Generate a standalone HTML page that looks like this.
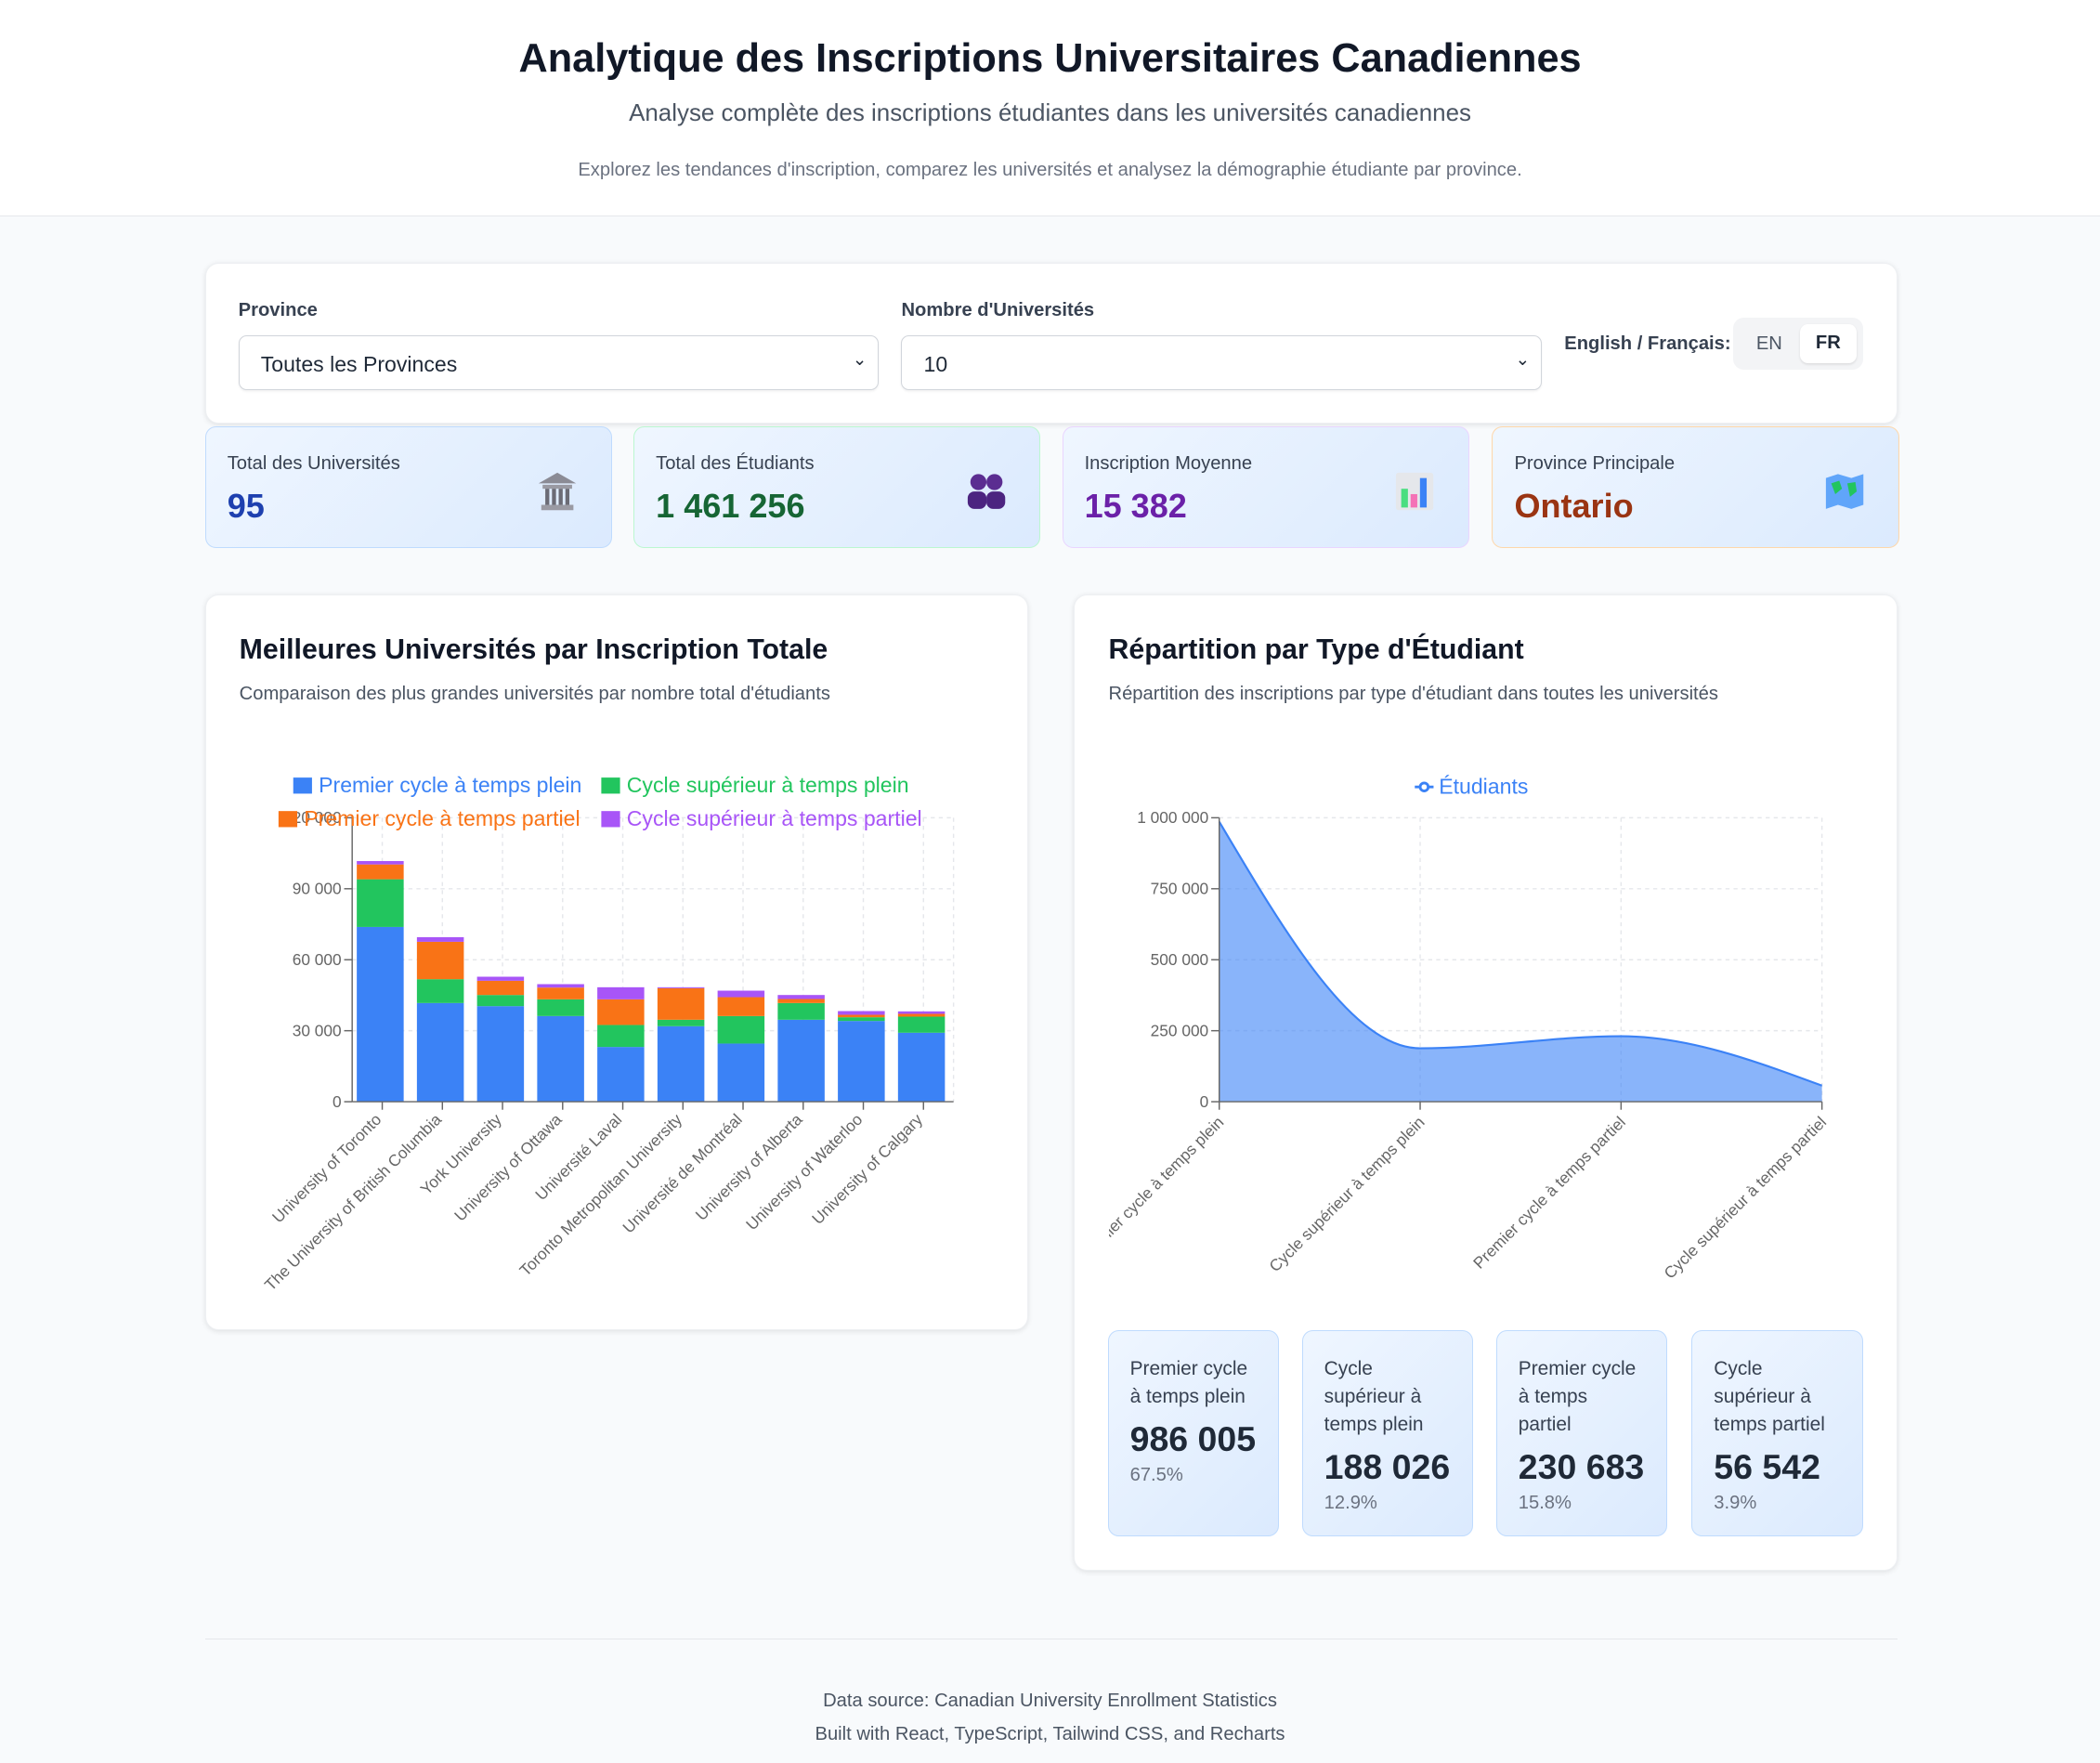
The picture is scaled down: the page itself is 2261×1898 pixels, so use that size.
<!DOCTYPE html>
<html><head><meta charset="utf-8">
<style>
html,body{margin:0;padding:0;background:#f8fafc;}
body{width:2261px;height:1898px;overflow:hidden;font-family:"Liberation Sans","DejaVu Sans",sans-serif;}
#page{position:relative;width:1568px;height:1316px;zoom:1.4420;color:#1f2937;}
.abs{position:absolute;}
.card{position:absolute;background:#fff;border-radius:10px;box-shadow:0 1px 4px rgba(0,0,0,0.10);border:1px solid #eef0f3;box-sizing:border-box;}
.stat{position:absolute;top:318px;height:91px;width:304px;border-radius:8px;box-sizing:border-box;background:linear-gradient(135deg,#eff6ff,#dbeafe);}
.stat .lbl{position:absolute;left:16px;top:20px;font-size:14px;color:#374151;}
.stat .val{position:absolute;left:16px;top:45px;font-size:25px;font-weight:bold;}
.stat .ico{position:absolute;right:24px;top:32px;width:32px;height:32px;}
.sel{position:absolute;top:250px;height:41px;width:478px;border:1px solid #d1d5db;border-radius:6px;box-sizing:border-box;background:#fff;font-size:16px;padding:12px 16px;box-shadow:0 1px 2px rgba(0,0,0,0.06);}
.sel .chev{position:absolute;right:8px;top:10px;font-size:13px;}
.mini{position:absolute;top:993px;height:154px;width:128px;border:1px solid #bfdbfe;border-radius:8px;box-sizing:border-box;background:linear-gradient(135deg,#eff6ff,#dbeafe);padding:18px 16px;}
.mini .ml{font-size:14.5px;line-height:21px;color:#374151;}
.mini .mv{font-size:26px;font-weight:bold;color:#1f2937;margin-top:6px;line-height:30px;}
.mini .mp{font-size:14px;color:#6b7280;margin-top:4px;}
svg text{font-family:"Liberation Sans","DejaVu Sans",sans-serif;}
</style></head>
<body>
<div id="page">
  <div class="abs" style="left:0;top:0;width:1568px;height:161px;background:#fff;border-bottom:1px solid #e5e7eb;"></div>
  <div class="abs" style="left:0;top:27px;width:1568px;text-align:center;font-size:30px;font-weight:bold;color:#111827;">Analytique des Inscriptions Universitaires Canadiennes</div>
  <div class="abs" style="left:0;top:75px;width:1568px;text-align:center;font-size:18px;color:#4b5563;">Analyse complète des inscriptions étudiantes dans les universités canadiennes</div>
  <div class="abs" style="left:0;top:119px;width:1568px;text-align:center;font-size:14px;color:#6b7280;">Explorez les tendances d'inscription, comparez les universités et analysez la démographie étudiante par province.</div>

  <div class="card" style="left:153px;top:196px;width:1264px;height:120px;"></div>
  <div class="abs" style="left:178px;top:224px;font-size:14px;font-weight:bold;color:#374151;">Province</div>
  <div class="sel" style="left:178px;">Toutes les Provinces<span class="chev">&#8964;</span></div>
  <div class="abs" style="left:673px;top:224px;font-size:14px;font-weight:bold;color:#374151;">Nombre d'Universités</div>
  <div class="sel" style="left:673px;">10<span class="chev">&#8964;</span></div>
  <div class="abs" style="left:1168px;top:249px;font-size:14px;font-weight:bold;color:#374151;">English / Français:</div>
  <div class="abs" style="left:1294px;top:237px;width:97px;height:39px;background:#f3f4f6;border-radius:8px;"></div>
  <div class="abs" style="left:1302px;top:243px;width:38px;height:29px;text-align:center;line-height:29px;font-size:14px;color:#4b5563;">EN</div>
  <div class="abs" style="left:1344px;top:242px;width:42px;height:29px;text-align:center;line-height:29px;font-size:14px;font-weight:bold;background:#fff;border-radius:6px;box-shadow:0 1px 2px rgba(0,0,0,0.1);">FR</div>

  <div class="stat" style="left:153px;border:1px solid #bfdbfe;">
    <div class="lbl">Total des Universités</div><div class="val" style="color:#1e40af;">95</div>
    <svg class="ico" viewBox="0 0 32 32"><polygon points="16,2 30,10 2,10" fill="#8b8b95"/><rect x="5" y="11" width="22" height="3" fill="#9a9aa3"/><rect x="7" y="14" width="3" height="12" fill="#6b6b75"/><rect x="12" y="14" width="3" height="12" fill="#6b6b75"/><rect x="17" y="14" width="3" height="12" fill="#6b6b75"/><rect x="22" y="14" width="3" height="12" fill="#6b6b75"/><rect x="4" y="26" width="24" height="4" fill="#9a9aa3"/></svg>
  </div>
  <div class="stat" style="left:473px;border:1px solid #bbf7d0;">
    <div class="lbl">Total des Étudiants</div><div class="val" style="color:#166534;">1 461 256</div>
    <svg class="ico" viewBox="0 0 32 32"><circle cx="10" cy="9" r="6" fill="#5b2d91"/><circle cx="22" cy="9" r="6" fill="#5b2d91"/><rect x="2" y="16" width="14" height="13" rx="5" fill="#4c2480"/><rect x="16" y="16" width="14" height="13" rx="5" fill="#4c2480"/></svg>
  </div>
  <div class="stat" style="left:793px;border:1px solid #e9d5ff;">
    <div class="lbl">Inscription Moyenne</div><div class="val" style="color:#6b21a8;">15 382</div>
    <svg class="ico" viewBox="0 0 32 32"><rect x="2" y="2" width="28" height="28" rx="2" fill="#e5e7eb"/><rect x="6" y="14" width="5" height="14" fill="#4ade80"/><rect x="13" y="18" width="5" height="10" fill="#f472b6"/><rect x="20" y="6" width="5" height="22" fill="#3b82f6"/></svg>
  </div>
  <div class="stat" style="left:1114px;border:1px solid #fed7aa;">
    <div class="lbl">Province Principale</div><div class="val" style="color:#9a3412;">Ontario</div>
    <svg class="ico" viewBox="0 0 32 32"><polygon points="2,6 11,3 21,6 30,3 30,26 21,29 11,26 2,29" fill="#60a5fa"/><path d="M6 10 L12 8 L14 14 L9 18 Z M18 10 L24 9 L25 16 L20 20 Z" fill="#22c55e"/></svg>
  </div>

  <div class="card" style="left:153px;top:444px;width:615px;height:549px;">
    <div class="abs" style="left:25px;top:29px;font-size:21px;font-weight:bold;color:#111827;">Meilleures Universités par Inscription Totale</div>
    <div class="abs" style="left:25px;top:66px;font-size:14px;color:#4b5563;">Comparaison des plus grandes universités par nombre total d'étudiants</div>
    <svg id="barsvg" class="abs" style="left:0;top:0;" width="615" height="549"></svg>
  </div>

  <div class="card" style="left:802px;top:444px;width:615px;height:729px;">
    <div class="abs" style="left:25px;top:29px;font-size:21px;font-weight:bold;color:#111827;">Répartition par Type d'Étudiant</div>
    <div class="abs" style="left:25px;top:66px;font-size:14px;color:#4b5563;">Répartition des inscriptions par type d'étudiant dans toutes les universités</div>
    <div class="abs" style="left:25px;top:0;width:590px;height:540px;overflow:hidden;">
      <svg id="areasvg" class="abs" style="left:-25px;top:0;" width="615" height="540"></svg>
    </div>
  </div>

  <div class="mini" style="left:827px;"><div class="ml">Premier cycle à temps plein</div><div class="mv">986 005</div><div class="mp">67.5%</div></div>
  <div class="mini" style="left:972px;"><div class="ml">Cycle supérieur à temps plein</div><div class="mv">188 026</div><div class="mp">12.9%</div></div>
  <div class="mini" style="left:1117px;"><div class="ml">Premier cycle à temps partiel</div><div class="mv">230 683</div><div class="mp">15.8%</div></div>
  <div class="mini" style="left:1263px;"><div class="ml">Cycle supérieur à temps partiel</div><div class="mv">56 542</div><div class="mp">3.9%</div></div>

  <div class="abs" style="left:153px;top:1223px;width:1264px;height:1px;background:#e5e7eb;"></div>
  <div class="abs" style="left:0;top:1262px;width:1568px;text-align:center;font-size:14px;color:#4b5563;">Data source: Canadian University Enrollment Statistics</div>
  <div class="abs" style="left:0;top:1287px;width:1568px;text-align:center;font-size:14px;color:#4b5563;">Built with React, TypeScript, Tailwind CSS, and Recharts</div>
</div>

<script>
const universities = ["University of Toronto","The University of British Columbia","York University","University of Ottawa","Université Laval","Toronto Metropolitan University","Université de Montréal","University of Alberta","University of Waterloo","University of Calgary"];
const ugFullTime = [73850,41700,40390,36200,23140,31900,24580,34640,34120,29150];
const gradFullTime = [20150,10070,4710,7070,9290,2740,11620,7060,1570,6800];
const ugPartTime = [6270,15810,6010,4970,10840,13340,7980,1700,1050,1180];
const gradPartTime = [1430,1960,1710,1440,5100,390,2750,1700,1560,1040];
const barTicks = [0,30000,60000,90000,120000];
const seriesNames = ["Premier cycle à temps plein","Cycle supérieur à temps plein","Premier cycle à temps partiel","Cycle supérieur à temps partiel"];

const typeLabels = ["Premier cycle à temps plein","Cycle supérieur à temps plein","Premier cycle à temps partiel","Cycle supérieur à temps partiel"];
const typeValues = [986005,188026,230683,56542];
const areaTicks = [0,250000,500000,750000,1000000];

const NS="http://www.w3.org/2000/svg";
function mk(parent,tag,attrs,text){const e=document.createElementNS(NS,tag);for(const k in attrs)e.setAttribute(k,attrs[k]);if(text!==undefined)e.textContent=text;parent.appendChild(e);return e;}
function fmt(n){return String(n).replace(/\B(?=(\d{3})+(?!\d))/g," ");}

// ---- bar chart ----
(function(){
  const svg=document.getElementById('barsvg');
  const L=109,R=558,T=166,B=378;
  const yMax=barTicks[barTicks.length-1];
  const y=v=>B-(v/yMax)*(B-T);
  const band=(R-L)/universities.length;
  const x=i=>L+band*i;
  const g=mk(svg,'g',{});
  barTicks.forEach(t=>{ if(t>0){const ln=mk(g,'line',{x1:L,x2:R,y1:y(t),y2:y(t),stroke:'#e5e7eb','stroke-dasharray':'3 3'});}});
  universities.forEach((u,i)=>{const cx=x(i)+band/2;const ln=mk(g,'line',{x1:cx,x2:cx,y1:T,y2:B,stroke:'#e5e7eb','stroke-dasharray':'3 3'});});
  mk(g,'line',{x1:R,x2:R,y1:T,y2:B,stroke:'#e5e7eb','stroke-dasharray':'3 3'});
  const series=[ugFullTime,gradFullTime,ugPartTime,gradPartTime];
  const colors=['#3b82f6','#22c55e','#f97316','#a855f7'];
  const bw=band*0.78;
  universities.forEach((u,i)=>{
    let acc=0;
    series.forEach((s,k)=>{
      const v=s[i];const y0=y(acc),y1=y(acc+v);acc+=v;
      const r=mk(g,'rect',{x:x(i)+(band-bw)/2-1.5,y:y1,width:bw,height:y0-y1,fill:colors[k]});
      
      
    });
  });
  mk(g,'line',{x1:L,x2:L,y1:T,y2:B,stroke:'#666'});
  mk(g,'line',{x1:L,x2:R,y1:B,y2:B,stroke:'#666'});
  barTicks.forEach(t=>{
    mk(g,'line',{x1:L-6,x2:L,y1:y(t),y2:y(t),stroke:'#666'});
    const tx=mk(g,'text',{x:L-8,y:y(t)+4,'text-anchor':'end','font-size':12,fill:'#666'},fmt(t));
    
    
  });
  universities.forEach((u,i)=>{
    const cx=x(i)+band/2;
    mk(g,'line',{x1:cx,x2:cx,y1:B,y2:B+6,stroke:'#666'});
    const tx=mk(g,'text',{x:cx,y:B+14,'text-anchor':'end','font-size':12,fill:'#666',transform:`rotate(-45 ${cx} ${B+14})`},u);
    
    
  });
  const lg=[[65,142,0],[295,142,1],[54,167,2],[295,167,3]];
  lg.forEach(([lx,ly,k])=>{
    const gg=mk(svg,'g',{});
    
    
    mk(gg,'rect',{x:lx,y:ly-6,width:14,height:12,fill:colors[k]});
    mk(gg,'text',{x:lx+19,y:ly+5,'font-size':16,fill:colors[k]},seriesNames[k]);
  });
})();

// ---- area chart ----
(function(){
  const svg=document.getElementById('areasvg');
  const L=108,R=558,T=166,B=378;
  const yMax=areaTicks[areaTicks.length-1];
  const y=v=>B-(v/yMax)*(B-T);
  const x=i=>L+(R-L)*i/(typeLabels.length-1);
  const g=mk(svg,'g',{});
  areaTicks.forEach(t=>{if(t>0)mk(g,'line',{x1:L,x2:R,y1:y(t),y2:y(t),stroke:'#e5e7eb','stroke-dasharray':'3 3'});});
  typeLabels.forEach((l,i)=>{if(i>0)mk(g,'line',{x1:x(i),x2:x(i),y1:T,y2:B,stroke:'#e5e7eb','stroke-dasharray':'3 3'});});
  const px=typeValues.map((v,i)=>x(i)), py=typeValues.map(v=>y(v));
  const n=px.length;const d=[],m=[];
  for(let i=0;i<n-1;i++)d.push((py[i+1]-py[i])/(px[i+1]-px[i]));
  for(let i=0;i<n;i++){
    if(i===0)m.push(d[0]);else if(i===n-1)m.push(d[n-2]);
    else{ if(d[i-1]*d[i]<=0)m.push(0);else{const h0=px[i]-px[i-1],h1=px[i+1]-px[i];const p=(d[i-1]*h1+d[i]*h0)/(h0+h1);m.push((Math.sign(d[i-1])+Math.sign(d[i]))*Math.min(Math.abs(d[i-1]),Math.abs(d[i]),0.5*Math.abs(p)));}}
  }
  if(n>2){m[0]=(3*d[0]-m[1])/2; m[n-1]=(3*d[n-2]-m[n-2])/2;}
  let path=`M${px[0]},${py[0]}`;
  for(let i=0;i<n-1;i++){const h=(px[i+1]-px[i])/3;path+=` C${px[i]+h},${py[i]+h*m[i]} ${px[i+1]-h},${py[i+1]-h*m[i+1]} ${px[i+1]},${py[i+1]}`;}
  const area=mk(g,'path',{d:path+` L${px[n-1]},${B} L${px[0]},${B} Z`,fill:'#3b82f6','fill-opacity':0.6});
  
  
  const line=mk(g,'path',{d:path,fill:'none',stroke:'#3b82f6','stroke-width':1.5});
  
  
  mk(g,'line',{x1:L,x2:L,y1:T,y2:B,stroke:'#666'});
  mk(g,'line',{x1:L,x2:R,y1:B,y2:B,stroke:'#666'});
  areaTicks.forEach(t=>{
    mk(g,'line',{x1:L-6,x2:L,y1:y(t),y2:y(t),stroke:'#666'});
    const tx=mk(g,'text',{x:L-8,y:y(t)+4,'text-anchor':'end','font-size':12,fill:'#666'},fmt(t));
    
    
  });
  typeLabels.forEach((l,i)=>{
    const cx=x(i);
    mk(g,'line',{x1:cx,x2:cx,y1:B,y2:B+6,stroke:'#666'});
    const tx=mk(g,'text',{x:cx+4,y:B+16,'text-anchor':'end','font-size':12,fill:'#666',transform:`rotate(-45 ${cx+4} ${B+16})`},l);
    
    
  });
  const lg=mk(svg,'g',{});
  
  
  mk(lg,'line',{x1:254,x2:268,y1:143,y2:143,stroke:'#3b82f6','stroke-width':2});
  mk(lg,'circle',{cx:261,cy:143,r:3,fill:'#fff',stroke:'#3b82f6','stroke-width':2});
  mk(lg,'text',{x:272,y:148,'font-size':16,fill:'#3b82f6'},'Étudiants');
})();
</script>
</body></html>
